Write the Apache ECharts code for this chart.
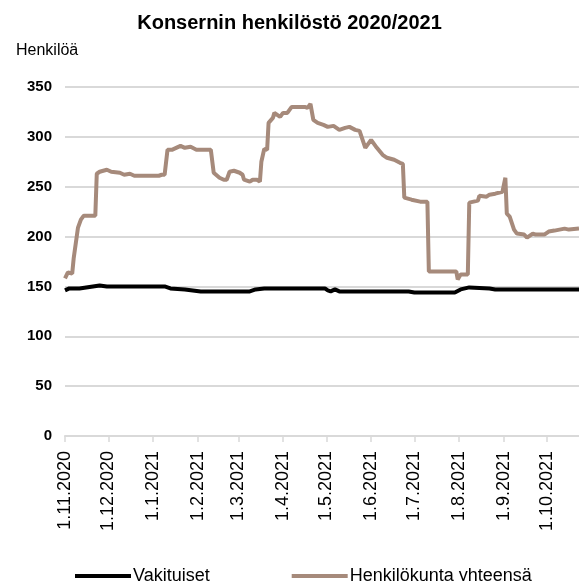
<!DOCTYPE html>
<html lang="fi">
<head>
    <meta http-equiv="Content-Type" content="text/html; charset=UTF-8">
    <title>Konsernin henkilöstö</title>
    <script type="text/javascript" src="https://cdn.jsdelivr.net/npm/echarts@6/dist/echarts.min.js"></script>
    <style>
        body { margin: 0; background: #fff; }
    </style>
</head>
<body>
    <div id="main" style="width: 579px;height:581px;"></div>

    <script type="text/javascript">
        // Henkilökunta yhteensä (brown line)
        var totalDates = ['2020-11-01','2020-11-03','2020-11-06','2020-11-07','2020-11-08','2020-11-10','2020-11-12','2020-11-14','2020-11-22','2020-11-23',
            '2020-11-25','2020-11-30','2020-12-03','2020-12-09','2020-12-12','2020-12-16','2020-12-19','2021-01-05','2021-01-07','2021-01-09',
            '2021-01-11','2021-01-14','2021-01-20','2021-01-23','2021-01-27','2021-01-31','2021-02-10','2021-02-12','2021-02-16','2021-02-19',
            '2021-02-21','2021-02-23','2021-02-26','2021-03-02','2021-03-04','2021-03-05','2021-03-09','2021-03-11','2021-03-14','2021-03-16',
            '2021-03-17','2021-03-19','2021-03-21','2021-03-22','2021-03-23','2021-03-25','2021-03-26','2021-03-30','2021-04-01','2021-04-04',
            '2021-04-07','2021-04-16','2021-04-18','2021-04-20','2021-04-22','2021-04-25','2021-04-29','2021-05-02','2021-05-06','2021-05-08',
            '2021-05-10','2021-05-14','2021-05-17','2021-05-21','2021-05-24','2021-05-28','2021-06-01','2021-06-05','2021-06-09','2021-06-12',
            '2021-06-17','2021-06-21','2021-06-23','2021-06-24','2021-06-29','2021-07-05','2021-07-10','2021-07-11','2021-07-30','2021-07-31',
            '2021-08-02','2021-08-07','2021-08-08','2021-08-14','2021-08-15','2021-08-20','2021-08-22','2021-08-26','2021-08-31','2021-09-02',
            '2021-09-03','2021-09-05','2021-09-08','2021-09-10','2021-09-15','2021-09-17','2021-09-21','2021-09-23','2021-09-29','2021-10-02',
            '2021-10-06','2021-10-13','2021-10-16','2021-10-23'];
        var totalValues = [158,164,163,178,180,209,217,221,221,263,
            265,267,265,264,262,263,261,261,262,262,
            287,287,291,289,290,287,287,264,259,257,
            257,265,266,264,262,257,255,257,257,255,
            275,288,287,314,315,319,324,320,324,324,
            330,330,329,333,317,314,312,310,311,309,
            307,309,310,307,306,289,297,289,282,279,
            277,274,273,239,237,235,235,165,165,157,
            162,162,234,236,241,240,242,243,245,259,
            223,220,207,203,202,199,203,202,202,205,
            206,208,207,208];

        // Vakituiset (black line)
        var permDates = ['2020-11-01','2020-11-04','2020-11-11','2020-11-25','2020-11-30','2021-01-09','2021-01-13','2021-01-23','2021-02-03','2021-03-09',
            '2021-03-13','2021-03-19','2021-04-30','2021-05-02','2021-05-04','2021-05-07','2021-05-10','2021-06-27','2021-07-01','2021-07-29',
            '2021-08-02','2021-08-08','2021-08-22','2021-08-26','2021-10-23'];
        var permValues = [146,148,148,151,150,150,148,147,145,145,
            147,148,148,146,145,147,145,145,144,144,
            147,149,148,147,147];

        // x axis labels at the first day of each month
        var monthTicks = ['2020-11-01','2020-12-01','2021-01-01','2021-02-01','2021-03-01','2021-04-01',
            '2021-05-01','2021-06-01','2021-07-01','2021-08-01','2021-09-01','2021-10-01'];
        var xStart = '2020-11-01';
        var xEnd = '2021-10-23';
        var yTicks = [0, 50, 100, 150, 200, 250, 300, 350];

        function toTime(s) { return Date.parse(s + 'T00:00:00Z'); }
        function pairs(dates, values) {
            return dates.map(function (d, i) { return [toTime(d), values[i]]; });
        }
        var tickValues = monthTicks.map(toTime);

        var font = "'Liberation Sans', Arial, sans-serif";
        var myChart = echarts.init(document.getElementById('main'));

        var option = {
            animation: false,
            title: [
                {
                    text: 'Konsernin henkilöstö 2020/2021',
                    left: 'center',
                    top: 8,
                    textStyle: {fontFamily: font, fontSize: 20, fontWeight: 'bold', color: '#000'}
                },
                {
                    text: 'Henkilöä',
                    left: 11,
                    top: 38,
                    textStyle: {fontFamily: font, fontSize: 16, fontWeight: 'normal', color: '#000'}
                }
            ],
            legend: {
                left: 70,
                top: 562,
                icon: 'rect',
                itemWidth: 56,
                itemHeight: 4,
                itemGap: 82,
                textStyle: {fontFamily: font, fontSize: 18, color: '#000', padding: [0, 0, 0, -3]},
                data: ['Vakituiset', 'Henkilökunta yhteensä']
            },
            grid: {
                left: 65,
                right: 0,
                top: 87,
                bottom: 145
            },
            xAxis: {
                type: 'value',
                min: toTime(xStart),
                max: toTime(xEnd),
                axisLine: {show: true, onZero: false, lineStyle: {color: '#d9d9d9', width: 2}},
                axisTick: {show: true, length: 6, customValues: tickValues, lineStyle: {color: '#d9d9d9', width: 1.5}},
                axisLabel: {
                    customValues: tickValues,
                    rotate: 90,
                    margin: 15,
                    fontFamily: font,
                    fontSize: 18,
                    color: '#000',
                    formatter: function (v) {
                        var d = new Date(v);
                        return d.getUTCDate() + '.' + (d.getUTCMonth() + 1) + '.' + d.getUTCFullYear();
                    }
                },
                splitLine: {show: false}
            },
            yAxis: {
                type: 'value',
                min: yTicks[0],
                max: yTicks[yTicks.length - 1],
                interval: 50,
                axisLine: {show: false},
                axisTick: {show: false},
                axisLabel: {margin: 13, fontFamily: font, fontSize: 15, fontWeight: 'bold', color: '#000'},
                splitLine: {lineStyle: {color: '#d9d9d9', width: 2}}
            },
            series: [
                {
                    name: 'Vakituiset',
                    type: 'line',
                    showSymbol: false,
                    color: '#000000',
                    lineStyle: {width: 4},
                    data: pairs(permDates, permValues)
                },
                {
                    name: 'Henkilökunta yhteensä',
                    type: 'line',
                    showSymbol: false,
                    color: '#a68a7b',
                    lineStyle: {width: 4},
                    data: pairs(totalDates, totalValues)
                }
            ]
        };

        myChart.setOption(option);
    </script>
</body>
</html>
